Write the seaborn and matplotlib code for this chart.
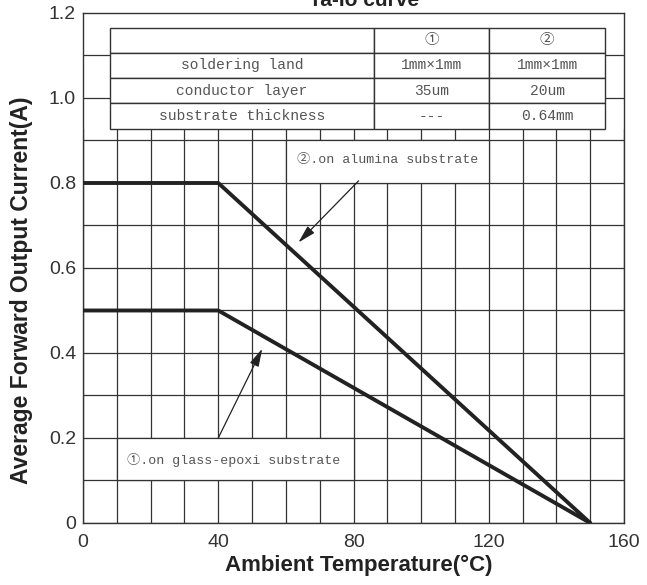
import numpy as np
import pandas as pd
import matplotlib
matplotlib.use('Agg')
import matplotlib.pyplot as plt
from matplotlib.patches import Rectangle
from matplotlib.ticker import MultipleLocator
import seaborn as sns

# derating curve data
temp = [0, 40, 150]
io_alumina = [0.8, 0.8, 0.0]
io_glass = [0.5, 0.5, 0.0]

x_ticks = [0, 40, 80, 120, 160]
x_labels = ['0', '40', '80', '120', '160']
y_ticks = [0, 0.2, 0.4, 0.6, 0.8, 1.0, 1.2]
y_labels = ['0', '0.2', '0.4', '0.6', '0.8', '1.0', '1.2']

table_rows = ['', 'soldering land', 'conductor layer', 'substrate thickness']
table_c1 = ['①', '1mm×1mm', '35um', '---']
table_c2 = ['②', '1mm×1mm', '20um', '0.64mm']

sns.set_theme(style='white')
plt.rcParams['font.family'] = ['Liberation Sans', 'DejaVu Sans']

df = pd.DataFrame({
    'temp': temp * 2,
    'io': io_alumina + io_glass,
    'sub': ['alumina'] * 3 + ['glass'] * 3,
})

fig, ax = plt.subplots(figsize=(6.47, 5.85), dpi=100)
fig.subplots_adjust(left=0.1283, right=0.9645, bottom=0.106, top=0.9778)

sns.lineplot(data=df, x='temp', y='io', units='sub', estimator=None,
             color='#222222', linewidth=2.8, ax=ax, zorder=4, legend=False)

ax.set_xlim(0, 160)
ax.set_ylim(0, 1.2)
ax.set_xticks(x_ticks, x_labels)
ax.set_yticks(y_ticks, y_labels)
ax.xaxis.set_minor_locator(MultipleLocator(10))
ax.yaxis.set_minor_locator(MultipleLocator(0.1))
ax.set_axisbelow(True)
ax.grid(which='both', color='#333333', linewidth=0.9)
ax.tick_params(which='both', length=0, labelsize=14, labelcolor='#333333')
ax.tick_params(axis='x', pad=8)
ax.tick_params(axis='y', pad=5)
for s in ax.spines.values():
    s.set_color('#333333')
    s.set_linewidth(1.0)

ax.set_xlabel('Ambient Temperature(°C)', fontsize=16, fontweight='bold', color='#222222')
ax.xaxis.set_label_coords(0.51, -0.062)
ax.set_ylabel('Average Forward Output Current(A)', fontsize=16.5, fontweight='bold', color='#222222')
ax.yaxis.set_label_coords(-0.093, 0.457)

# blank the grid behind the table
ax.add_patch(Rectangle((0, 0.927), 160, 0.273, facecolor='white', edgecolor='none', zorder=1))
for yy in [1.1, 1.0]:
    ax.plot([0, 160], [yy, yy], color='#333333', linewidth=0.9, zorder=1.2)

# table
mono = ['Liberation Mono', 'Noto Sans CJK SC', 'DejaVu Sans']
col_edges = [7.9, 86.1, 120.1, 154.4]
row_edges = [1.165, 1.106, 1.047, 0.988, 0.927]
for r in range(4):
    y0, y1 = row_edges[r + 1], row_edges[r]
    for c, txt in enumerate([table_rows[r], table_c1[r], table_c2[r]]):
        x0, x1 = col_edges[c], col_edges[c + 1]
        ax.add_patch(Rectangle((x0, y0), x1 - x0, y1 - y0, facecolor='white',
                               edgecolor='#333333', linewidth=1.0, zorder=3))
        ax.text((x0 + x1) / 2, (y0 + y1) / 2, txt, ha='center', va='center',
                fontsize=10.5, color='#555555', family=mono, zorder=5)

# annotation boxes
ax.add_patch(Rectangle((60, 0.8), 60, 0.1, facecolor='white', edgecolor='#333333', linewidth=0.9, zorder=1))
ax.text(63.3, 0.855, '②.on alumina substrate', ha='left', va='center',
        fontsize=9.5, color='#555555', family=mono, zorder=5)
ax.add_patch(Rectangle((10, 0.1), 70, 0.1, facecolor='white', edgecolor='#333333', linewidth=0.9, zorder=1))
ax.text(13, 0.148, '①.on glass-epoxi substrate', ha='left', va='center',
        fontsize=9.5, color='#555555', family=mono, zorder=5)

arrow = dict(arrowstyle='-|>,head_length=0.9,head_width=0.24', color='#222222',
             lw=0.9, shrinkA=0, shrinkB=0)
ax.annotate('', xy=(63.7, 0.66), xytext=(81.5, 0.805), arrowprops=arrow, zorder=5)
ax.annotate('', xy=(53, 0.41), xytext=(40, 0.2), arrowprops=arrow, zorder=5)

fig.text(0.563, 1 - 6 / 585, 'Ta-Io curve', ha='center', va='baseline',
         fontsize=15, fontweight='bold', color='#222222')

plt.savefig('out.png', dpi=100)
